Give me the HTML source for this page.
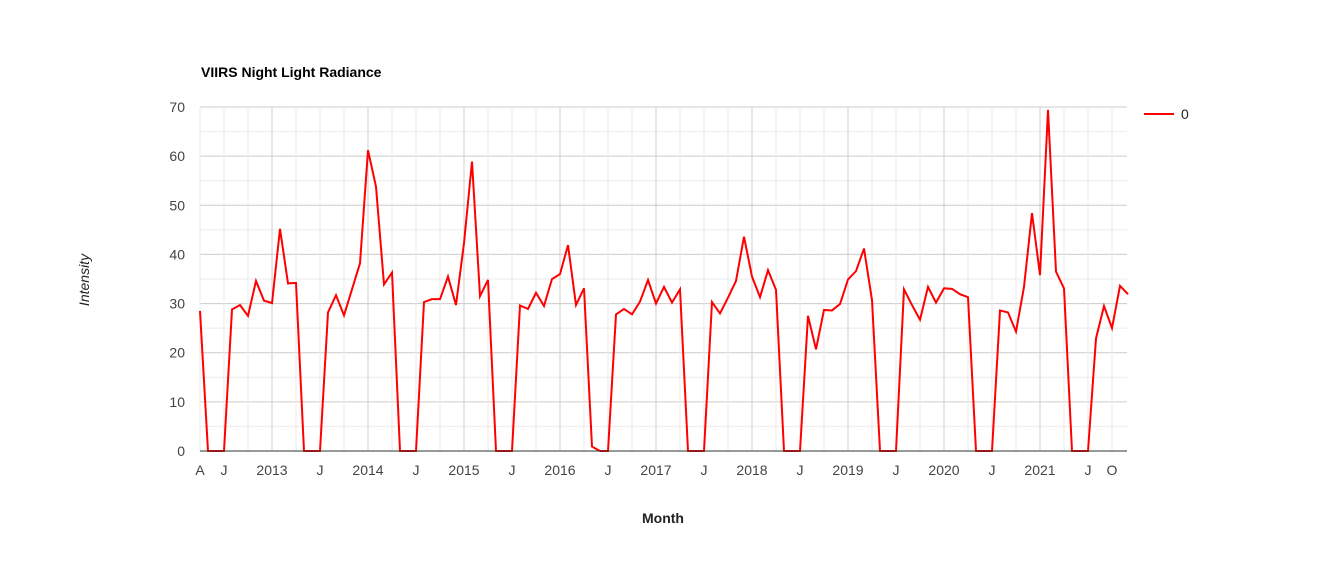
<!DOCTYPE html>
<html><head><meta charset="utf-8"><style>
body{margin:0;background:#fff;}
svg text{font-family:"Liberation Sans",Arial,sans-serif;}
</style></head><body>
<svg id="chart" width="1326" height="559" xmlns="http://www.w3.org/2000/svg">
<rect width="1326" height="559" fill="#fff"/>
<text x="201" y="77" font-size="14" font-weight="bold" fill="#000">VIIRS Night Light Radiance</text>
<g id="grid"></g>
<g id="xticks"></g>
<g id="yticks"></g>
<path id="series" fill="none" stroke="#ff0000" stroke-width="2"/>
<line x1="200" y1="451" x2="1127" y2="451" stroke="#333" stroke-width="1"/>
<text transform="translate(89,280) rotate(-90)" text-anchor="middle" font-size="14" font-style="italic" fill="#222">Intensity</text>
<text x="663" y="523" text-anchor="middle" font-size="14" font-weight="bold" fill="#222">Month</text>
<g>
<line x1="1144" y1="114" x2="1174" y2="114" stroke="#ff0000" stroke-width="2"/>
<text x="1181" y="119" font-size="14" fill="#222">0</text>
</g>
</svg>
<script>
const startYear = 2012, startMonth = 3; // April 2012 (0-based month)
const values = [28.5,0,0,0,28.8,29.7,27.5,34.6,30.6,30.1,45.2,34.1,34.2,0,0,0,28.2,31.7,27.6,32.9,38.2,61.2,53.8,33.9,36.3,0,0,0,30.3,30.9,30.9,35.5,29.7,42.3,58.9,31.5,34.8,0,0,0,29.6,28.9,32.2,29.5,35.0,36.0,41.9,29.7,33.1,0.9,0,0,27.8,28.9,27.8,30.4,34.8,30.0,33.4,30.2,32.9,0,0,0,30.3,28.0,31.2,34.6,43.6,35.5,31.3,36.8,32.8,0,0,0,27.5,20.7,28.7,28.6,29.9,34.9,36.6,41.2,30.7,0,0,0,32.9,29.7,26.7,33.4,30.2,33.1,33.0,31.9,31.3,0,0,0,28.6,28.2,24.3,33.4,48.4,35.8,69.4,36.5,33.1,0,0,0,22.9,29.5,25.0,33.6,31.9];
const yTicks = [0,10,20,30,40,50,60,70];
const yMin = 0, yMax = 70;
const L=200,R=1128,T=107,B=451, monthPx=8;
const NS="http://www.w3.org/2000/svg";
function xs(i){return L+i*monthPx;}
function ys(v){return B-(v-yMin)/(yMax-yMin)*(B-T);}
const grid=document.getElementById('grid'), xt=document.getElementById('xticks'), yt=document.getElementById('yticks');
function mk(tag,attrs,parent){const e=document.createElementNS(NS,tag);for(const k in attrs)e.setAttribute(k,attrs[k]);parent.appendChild(e);return e;}
// horizontal grid
for(let v=yMin; v<=yMax; v+=5){
  const major = v%10===0;
  const l=mk('line',{x1:L,x2:1127,y1:ys(v),y2:ys(v),stroke:major?'#cccccc':'#ebebeb','stroke-width':1},grid);
  
  
}
yTicks.forEach(v=>{
  const t=mk('text',{x:185,y:ys(v)+5,'text-anchor':'end','font-size':14,fill:'#444'},yt);
  t.textContent=v;
  
  
});
// vertical grid + labels
const letters=['J','F','M','A','M','J','J','A','S','O','N','D'];
for(let i=0;i<values.length;i++){
  const m=(startMonth+i)%12, y=startYear+Math.floor((startMonth+i)/12);
  if(m%3!==0) continue;
  const x=xs(i);
  if(x>1127) continue;
  const l=mk('line',{x1:x,x2:x,y1:T,y2:B,stroke:m===0?'#cccccc':'#ebebeb','stroke-width':1},grid);
  
  
  let label=null;
  if(m===0) label=String(y);
  else if(i===0||m===6||(m===9&&i>=values.length-4)) label=letters[m];
  if(label){
    const t=mk('text',{x:x,y:475,'text-anchor':'middle','font-size':14,fill:'#444'},xt);
    t.textContent=label;
    
    
  }
}
let d='';
values.forEach((v,i)=>{d+=(i?'L':'M')+xs(i)+','+ys(v);});
document.getElementById('series').setAttribute('d',d);
</script>
</body></html>
